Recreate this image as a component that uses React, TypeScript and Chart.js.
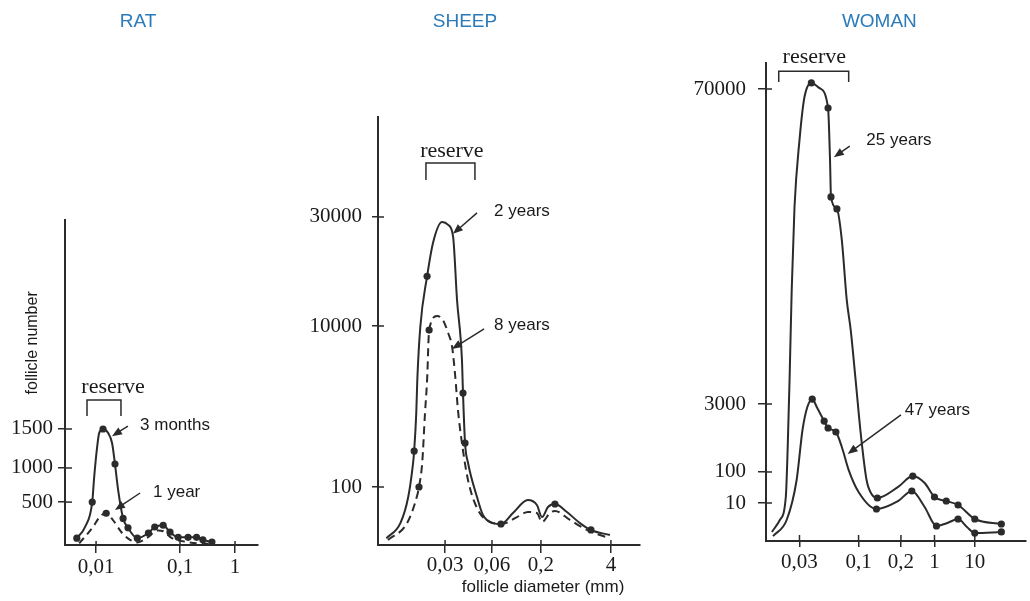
import { useEffect, useRef } from "react";
import { Chart, registerables } from "chart.js";

Chart.register(...registerables);

const INK = "#2b2b2b";
const TITLE_BLUE = "#2b7bba";
const SERIF = "'Liberation Serif', 'DejaVu Serif', serif";
const SANS = "'Liberation Sans', Arial, sans-serif";

// ---------------- RAT ----------------
const ratXTicks = [0.01, 0.1, 1];
const ratXTickLabels = ["0,01", "0,1", "1"];
const ratXTickFractions = [0.161, 0.596, 0.881];
const ratYStops = [0, 500, 1000, 1500];
const ratYStopFractions = [0, 0.132, 0.237, 0.357];
const ratYTickLabels = ["", "500", "1000", "1500"];

const rat3MonthsDiameter = [0.0059, 0.0074, 0.009, 0.0095, 0.0103, 0.0109, 0.0121, 0.0139, 0.0155, 0.0168, 0.0183, 0.021, 0.024, 0.031, 0.042, 0.05, 0.063, 0.076, 0.095, 0.14, 0.2, 0.26, 0.38];
const rat3MonthsCount = [80, 210, 500, 870, 1270, 1450, 1500, 1450, 1320, 1050, 680, 310, 200, 80, 140, 210, 230, 150, 90, 90, 90, 60, 35];
const rat3MonthsMeasured = [1, 0, 1, 0, 0, 0, 1, 0, 0, 1, 0, 1, 1, 1, 1, 1, 1, 1, 1, 1, 1, 1, 1];

const rat1YearDiameter = [0.0063, 0.0092, 0.0112, 0.0132, 0.0159, 0.0204, 0.0254, 0.031, 0.04, 0.055, 0.063, 0.08, 0.134, 0.4];
const rat1YearCount = [20, 210, 335, 370, 290, 140, 60, 30, 80, 170, 160, 80, 35, 10];
const rat1YearMeasured = [0, 0, 0, 1, 0, 0, 0, 0, 0, 0, 0, 0, 0, 0];

// ---------------- SHEEP ----------------
const sheepXTicks = [0.03, 0.06, 0.2, 4];
const sheepXTickLabels = ["0,03", "0,06", "0,2", "4"];
const sheepXTickFractions = [0.256, 0.435, 0.622, 0.889];
const sheepYStops = [1, 100, 10000, 30000];
const sheepYStopFractions = [0, 0.1355, 0.5117, 0.7664];
const sheepYTickLabels = ["", "100", "10000", "30000"];

const sheep2YearsDiameter = [0.0126, 0.0155, 0.0174, 0.0187, 0.019, 0.0196, 0.0199, 0.0208, 0.023, 0.0251, 0.0287, 0.0314, 0.0338, 0.0358, 0.0385, 0.0391, 0.0403, 0.0421, 0.0481, 0.0525, 0.0615, 0.0748, 0.1005, 0.145, 0.181, 0.209, 0.27, 0.364, 0.608, 1.06, 1.7, 3.83];
const sheep2YearsCount = [1.7, 5.7, 45, 200, 280, 830, 2130, 9700, 16500, 23100, 28500, 27700, 24500, 13000, 3780, 1470, 352, 200, 45, 10.8, 5.7, 5.3, 12.7, 35.6, 23.9, 9.2, 20.4, 25.9, 13.7, 5.7, 3.3, 2.2];
const sheep2YearsMeasured = [0, 0, 0, 0, 1, 0, 0, 0, 1, 0, 0, 0, 0, 0, 0, 1, 1, 0, 0, 0, 0, 1, 0, 0, 0, 0, 0, 1, 0, 0, 1, 0];

const sheep8YearsDiameter = [0.0129, 0.0171, 0.0199, 0.0204, 0.0214, 0.0223, 0.023, 0.0237, 0.0267, 0.0291, 0.0314, 0.0333, 0.0348, 0.0363, 0.0385, 0.0421, 0.0488, 0.0583, 0.0767, 0.111, 0.145, 0.181, 0.209, 0.294, 0.364, 0.692, 1.43, 3.83];
const sheep8YearsCount = [1.5, 5.7, 53, 100, 200, 830, 2130, 8900, 11060, 10600, 8180, 5480, 2460, 904, 352, 122, 16.1, 6.2, 5.3, 9.2, 13.7, 12.7, 6.2, 12.7, 14.9, 7.3, 3.3, 1.7];
const sheep8YearsMeasured = [0, 0, 0, 1, 0, 0, 0, 1, 0, 0, 0, 0, 0, 0, 0, 0, 0, 0, 0, 0, 0, 0, 0, 0, 0, 0, 0, 0];

// ---------------- WOMAN ----------------
const womanXTicks = [0.03, 0.1, 0.2, 1, 10];
const womanXTickLabels = ["0,03", "0,1", "0,2", "1", "10"];
const womanXTickFractions = [0.1288, 0.356, 0.519, 0.648, 0.803];
const womanYStops = [1, 10, 100, 3000, 70000];
const womanYStopFractions = [0, 0.0795, 0.1444, 0.2866, 0.9456];
const womanYTickLabels = ["", "10", "100", "3000", "70000"];

const woman25YearsDiameter = [0.0171, 0.0201, 0.0227, 0.0236, 0.0245, 0.0256, 0.0271, 0.03, 0.0332, 0.0382, 0.0448, 0.0537, 0.0559, 0.057, 0.0643, 0.0711, 0.0786, 0.0852, 0.0942, 0.103, 0.114, 0.125, 0.136, 0.191, 0.353, 0.623, 1, 1.96, 3.85, 10, 45.6];
const woman25YearsCount = [1.73, 3.57, 15.6, 349, 3810, 9380, 21500, 42000, 64600, 74400, 70800, 57900, 34400, 23800, 21100, 15460, 8490, 6290, 3810, 817, 55, 18, 14.5, 33, 74, 44, 15.6, 11.6, 8.86, 3.79, 2.8];
const woman25YearsMeasured = [0, 0, 0, 0, 0, 0, 0, 0, 0, 1, 0, 1, 0, 1, 1, 0, 0, 0, 0, 0, 0, 0, 1, 0, 1, 0, 1, 1, 1, 1, 1];

const woman47YearsDiameter = [0.0175, 0.0231, 0.0283, 0.0319, 0.0352, 0.0389, 0.0431, 0.0496, 0.0537, 0.063, 0.0711, 0.0818, 0.1, 0.134, 0.191, 0.337, 0.623, 1.12, 2.08, 3.85, 6.38, 10, 45.6];
const woman47YearsCount = [1.35, 3.57, 55, 817, 2580, 3150, 2450, 1280, 903, 739, 349, 110, 22.6, 6.96, 11.6, 24.4, 7.85, 2.48, 2.98, 3.79, 2.34, 1.62, 1.73];
const woman47YearsMeasured = [0, 0, 0, 0, 0, 1, 0, 1, 1, 1, 0, 0, 0, 1, 0, 1, 0, 1, 0, 1, 0, 1, 1];

// ---------------- helpers ----------------
function makeMap(values: number[], fracs: number[], log: boolean) {
  const f = (v: number) => (log ? Math.log10(v) : v);
  return (v: number) => {
    let i = 0;
    while (i < values.length - 2 && f(v) > f(values[i + 1])) i++;
    const a = f(values[i]);
    const b = f(values[i + 1]);
    return fracs[i] + ((f(v) - a) / (b - a)) * (fracs[i + 1] - fracs[i]);
  };
}

type Series = { d: number[]; c: number[]; m: number[]; dash: number[] };
type Note = { text: string; fx: number; fy: number; align: CanvasTextAlign; font: string; color?: string; rotate?: boolean };
type Panel = {
  name: string;
  area: { left: number; top: number; right: number; bottom: number };
  yBox: number;
  xTicks: number[]; xLabels: string[]; xFracs: number[];
  yStops: number[]; yFracs: number[]; yLabels: string[]; yLog: boolean;
  xTickLen: number; xInner: number; xPad: number;
  yTickLen: number; yInner: number; yPad: number;
  series: Series[];
  bracket: number[];
  arrows: number[][];
  notes: Note[];
};

const LABEL_FONT = `17px ${SANS}`;
const RESERVE_FONT = `22px ${SERIF}`;
const TITLE_FONT = `19px ${SANS}`;

const panels: Panel[] = [
  {
    name: "rat",
    area: { left: 65, top: 220, right: 258, bottom: 545 },
    yBox: 64,
    xTicks: ratXTicks, xLabels: ratXTickLabels, xFracs: ratXTickFractions,
    yStops: ratYStops, yFracs: ratYStopFractions, yLabels: ratYTickLabels, yLog: false,
    xTickLen: 8, xInner: 4, xPad: 2,
    yTickLen: 7, yInner: 7, yPad: 5,
    series: [
      { d: rat3MonthsDiameter, c: rat3MonthsCount, m: rat3MonthsMeasured, dash: [] },
      { d: rat1YearDiameter, c: rat1YearCount, m: rat1YearMeasured, dash: [7, 5] },
    ],
    bracket: [0.114, 0.29, 0.446, 0.397],
    arrows: [
      [0.326, 0.366, 0.2435, 0.335],
      [0.389, 0.16, 0.259, 0.108],
    ],
    notes: [
      { text: "RAT", fx: 0.378, fy: 1.609, align: "center", font: TITLE_FONT, color: TITLE_BLUE },
      { text: "reserve", fx: 0.249, fy: 0.486, align: "center", font: RESERVE_FONT },
      { text: "3 months", fx: 0.389, fy: 0.369, align: "left", font: LABEL_FONT },
      { text: "1 year", fx: 0.456, fy: 0.163, align: "left", font: LABEL_FONT },
      { text: "follicle number", fx: -0.166, fy: 0.622, align: "center", font: `16px ${SANS}`, rotate: true },
    ],
  },
  {
    name: "sheep",
    area: { left: 378, top: 117, right: 640, bottom: 545 },
    yBox: 110,
    xTicks: sheepXTicks, xLabels: sheepXTickLabels, xFracs: sheepXTickFractions,
    yStops: sheepYStops, yFracs: sheepYStopFractions, yLabels: sheepYTickLabels, yLog: true,
    xTickLen: 8, xInner: 5, xPad: 0,
    yTickLen: 6, yInner: 6, yPad: 10,
    series: [
      { d: sheep2YearsDiameter, c: sheep2YearsCount, m: sheep2YearsMeasured, dash: [] },
      { d: sheep8YearsDiameter, c: sheep8YearsCount, m: sheep8YearsMeasured, dash: [8, 5] },
    ],
    bracket: [0.183, 0.37, 0.8925, 0.853],
    arrows: [
      [0.378, 0.776, 0.286, 0.727],
      [0.405, 0.505, 0.282, 0.458],
    ],
    notes: [
      { text: "SHEEP", fx: 0.332, fy: 1.222, align: "center", font: TITLE_FONT, color: TITLE_BLUE },
      { text: "reserve", fx: 0.282, fy: 0.921, align: "center", font: RESERVE_FONT },
      { text: "2 years", fx: 0.443, fy: 0.78, align: "left", font: LABEL_FONT },
      { text: "8 years", fx: 0.443, fy: 0.514, align: "left", font: LABEL_FONT },
      { text: "follicle diameter (mm)", fx: 0.63, fy: -0.1, align: "center", font: LABEL_FONT },
    ],
  },
  {
    name: "woman",
    area: { left: 766, top: 63, right: 1030, bottom: 541 },
    yBox: 110,
    xTicks: womanXTicks, xLabels: womanXTickLabels, xFracs: womanXTickFractions,
    yStops: womanYStops, yFracs: womanYStopFractions, yLabels: womanYTickLabels, yLog: true,
    xTickLen: 6, xInner: 6, xPad: 3,
    yTickLen: 8, yInner: 6, yPad: 12,
    series: [
      { d: woman25YearsDiameter, c: woman25YearsCount, m: woman25YearsMeasured, dash: [] },
      { d: woman47YearsDiameter, c: woman47YearsCount, m: woman47YearsMeasured, dash: [] },
    ],
    bracket: [0.049, 0.318, 0.983, 0.96],
    arrows: [
      [0.322, 0.826, 0.261, 0.803],
      [0.519, 0.264, 0.314, 0.182],
    ],
    notes: [
      { text: "WOMAN", fx: 0.436, fy: 1.086, align: "center", font: TITLE_FONT, color: TITLE_BLUE },
      { text: "reserve", fx: 0.186, fy: 1.0126, align: "center", font: RESERVE_FONT },
      { text: "25 years", fx: 0.386, fy: 0.839, align: "left", font: LABEL_FONT },
      { text: "47 years", fx: 0.534, fy: 0.274, align: "left", font: LABEL_FONT },
    ],
  },
];

const PAGE_W = 1030;
const PAGE_H = 601;
const X_BOX = 40;

function drawArrow(ctx: CanvasRenderingContext2D, x0: number, y0: number, x1: number, y1: number) {
  const ang = Math.atan2(y1 - y0, x1 - x0);
  const L = 10;
  const w = 4;
  const c = Math.cos(ang);
  const s = Math.sin(ang);
  ctx.beginPath();
  ctx.moveTo(x0, y0);
  ctx.lineTo(x1 - L * 0.7 * c, y1 - L * 0.7 * s);
  ctx.stroke();
  ctx.beginPath();
  ctx.moveTo(x1, y1);
  ctx.lineTo(x1 - L * c + w * s, y1 - L * s - w * c);
  ctx.lineTo(x1 - L * c - w * s, y1 - L * s + w * c);
  ctx.closePath();
  ctx.fill();
}

function decorPlugin(p: Panel) {
  return {
    id: "decor_" + p.name,
    afterDraw(chart: any) {
      const ctx: CanvasRenderingContext2D = chart.ctx;
      const xs = chart.scales.x;
      const ys = chart.scales.y;
      const X = (f: number) => xs.getPixelForValue(f);
      const Y = (f: number) => ys.getPixelForValue(f);
      ctx.save();
      ctx.strokeStyle = INK;
      ctx.fillStyle = INK;
      ctx.lineWidth = 1.5;
      xs.ticks.forEach((t: any) => {
        const px = X(t.value);
        ctx.beginPath();
        ctx.moveTo(px, ys.bottom);
        ctx.lineTo(px, ys.bottom - p.xInner);
        ctx.stroke();
      });
      ys.ticks.forEach((t: any) => {
        const py = Y(t.value);
        ctx.beginPath();
        ctx.moveTo(xs.left, py);
        ctx.lineTo(xs.left + p.yInner, py);
        ctx.stroke();
      });
      const [b0, b1, bt, bb] = p.bracket;
      ctx.beginPath();
      ctx.moveTo(X(b0), Y(bb));
      ctx.lineTo(X(b0), Y(bt));
      ctx.lineTo(X(b1), Y(bt));
      ctx.lineTo(X(b1), Y(bb));
      ctx.stroke();
      p.arrows.forEach((a) => drawArrow(ctx, X(a[0]), Y(a[1]), X(a[2]), Y(a[3])));
      p.notes.forEach((n) => {
        ctx.save();
        ctx.font = n.font;
        ctx.fillStyle = n.color || "#1a1a1a";
        ctx.textAlign = n.align;
        ctx.textBaseline = "middle";
        ctx.translate(X(n.fx), Y(n.fy));
        if (n.rotate) ctx.rotate(-Math.PI / 2);
        ctx.fillText(n.text, 0, 0);
        ctx.restore();
      });
      ctx.restore();
    },
  };
}

function buildConfig(p: Panel): any {
  const mapX = makeMap(p.xTicks, p.xFracs, true);
  const mapY = makeMap(p.yStops, p.yFracs, p.yLog);
  const tickFont = { family: SERIF, size: 21 };
  return {
    type: "line",
    data: {
      datasets: p.series.map((s) => ({
        data: s.d.map((d, i) => ({ x: mapX(d), y: mapY(s.c[i]) })),
        borderColor: INK,
        borderWidth: 2,
        borderDash: s.dash,
        pointRadius: s.m.map((v) => (v ? 3.6 : 0)),
        pointBackgroundColor: INK,
        pointBorderColor: INK,
        pointBorderWidth: 0,
        cubicInterpolationMode: "monotone",
        fill: false,
      })),
    },
    options: {
      animation: false,
      responsive: false,
      events: [],
      layout: {
        padding: {
          left: p.area.left - p.yBox,
          top: p.area.top,
          right: PAGE_W - p.area.right,
          bottom: PAGE_H - p.area.bottom - X_BOX,
        },
      },
      plugins: { legend: { display: false }, tooltip: { enabled: false }, title: { display: false } },
      scales: {
        x: {
          type: "linear",
          min: 0,
          max: 1,
          afterBuildTicks: (sc: any) => {
            sc.ticks = p.xFracs.map((f) => ({ value: f }));
          },
          afterFit: (sc: any) => {
            sc.height = X_BOX;
            sc.paddingLeft = 0;
            sc.paddingRight = 0;
          },
          ticks: {
            autoSkip: false,
            maxRotation: 0,
            minRotation: 0,
            padding: p.xPad,
            color: "#1a1a1a",
            font: tickFont,
            callback: (_v: any, i: number) => p.xLabels[i],
          },
          grid: { display: true, drawOnChartArea: false, drawTicks: true, tickLength: p.xTickLen, color: INK, lineWidth: 1.5 },
          border: { display: true, color: INK, width: 2 },
        },
        y: {
          type: "linear",
          min: 0,
          max: 1,
          afterBuildTicks: (sc: any) => {
            sc.ticks = p.yFracs.slice(1).map((f) => ({ value: f }));
          },
          afterFit: (sc: any) => {
            sc.width = p.yBox;
            sc.paddingTop = 0;
            sc.paddingBottom = 0;
          },
          ticks: {
            autoSkip: false,
            padding: p.yPad,
            color: "#1a1a1a",
            font: tickFont,
            callback: (_v: any, i: number) => p.yLabels[i + 1],
          },
          grid: { display: true, drawOnChartArea: false, drawTicks: true, tickLength: p.yTickLen, color: INK, lineWidth: 1.5 },
          border: { display: true, color: INK, width: 2 },
        },
      },
    },
    plugins: [decorPlugin(p)],
  };
}

function PanelChart({ panel }: { panel: Panel }) {
  const ref = useRef<HTMLCanvasElement | null>(null);
  useEffect(() => {
    const chart = new Chart(ref.current as HTMLCanvasElement, buildConfig(panel));
    return () => chart.destroy();
  }, [panel]);
  return (
    <canvas
      ref={ref}
      width={PAGE_W}
      height={PAGE_H}
      style={{ position: "absolute", left: 0, top: 0, width: PAGE_W, height: PAGE_H }}
    />
  );
}

export default function App() {
  return (
    <div
      style={{
        position: "absolute",
        left: 0,
        top: 0,
        width: PAGE_W,
        height: PAGE_H,
        background: "#ffffff",
        overflow: "hidden",
      }}
    >
      {panels.map((p) => (
        <PanelChart key={p.name} panel={p} />
      ))}
    </div>
  );
}
